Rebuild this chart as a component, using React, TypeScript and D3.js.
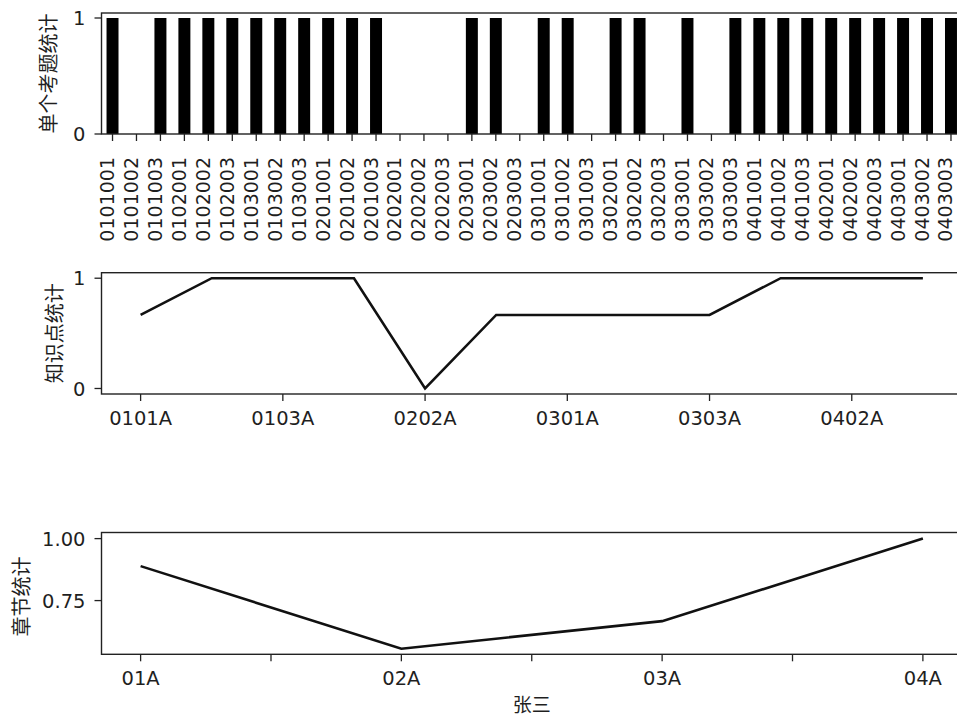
import React from 'react';
import * as d3 from 'd3';

const questionIds = [
  '0101001', '0101002', '0101003', '0102001', '0102002', '0102003',
  '0103001', '0103002', '0103003', '0201001', '0201002', '0201003',
  '0202001', '0202002', '0202003', '0203001', '0203002', '0203003',
  '0301001', '0301002', '0301003', '0302001', '0302002', '0302003',
  '0303001', '0303002', '0303003', '0401001', '0401002', '0401003',
  '0402001', '0402002', '0402003', '0403001', '0403002', '0403003',
];
const questionScores = [
  1, 0, 1, 1, 1, 1,
  1, 1, 1, 1, 1, 1,
  0, 0, 0, 1, 1, 0,
  1, 1, 0, 1, 1, 0,
  1, 0, 1, 1, 1, 1,
  1, 1, 1, 1, 1, 1,
];
const pointIds = ['0101A', '0102A', '0103A', '0201A', '0202A', '0203A', '0301A', '0302A', '0303A', '0401A', '0402A', '0403A'];
const pointScores = [0.667, 1, 1, 1, 0, 0.667, 0.667, 0.667, 0.667, 1, 1, 1];
const chapterIds = ['01A', '02A', '03A', '04A'];
const chapterScores = [0.889, 0.556, 0.667, 1.0];

const topYTicks = [0, 1];
const midYTicks = [0, 1];
const botYTicks = [0.75, 1.0];
const botXTicks = [0, 0.5, 1, 1.5, 2, 2.5, 3];

const W = 957;
const H = 718;
const LATIN = "'DejaVu Sans', sans-serif";
const CJK = "'Noto Sans CJK SC', 'DejaVu Sans', sans-serif";
const TXT = '#1f1f1f';
const SPINE = '#222';
const LEFT = 101.5;
const RIGHT = 962;

function Frame({ top, bottom }: { top: number; bottom: number }) {
  return (
    <rect x={LEFT} y={top} width={RIGHT - LEFT} height={bottom - top} fill="none" stroke={SPINE} strokeWidth={1.4} />
  );
}

function YTicks({ ticks, y, fmt, fs }: { ticks: number[]; y: (v: number) => number; fmt: (v: number) => string; fs: number }) {
  return (
    <g>
      {ticks.map((t) => (
        <g key={t}>
          <line x1={LEFT - 7} x2={LEFT} y1={y(t)} y2={y(t)} stroke={SPINE} strokeWidth={1.3} />
          <text x={LEFT - 16} y={y(t) + fs * 0.36} textAnchor="end" fontFamily={LATIN} fontSize={fs} fill={TXT}>
            {fmt(t)}
          </text>
        </g>
      ))}
    </g>
  );
}

function YLabel({ text, x, y }: { text: string; x: number; y: number }) {
  return (
    <text
      transform={`translate(${x},${y}) rotate(-90)`}
      textAnchor="middle"
      dominantBaseline="central"
      fontFamily={CJK}
      fontSize={20}
      fill={TXT}
    >
      {text}
    </text>
  );
}

export default function App() {
  // Top panel: bar chart of individual questions
  const tTop = 13;
  const tBot = 134;
  const xTop = d3.scaleLinear().domain([-0.46, 35.46]).range([LEFT, RIGHT]);
  const yTop = d3.scaleLinear().domain([0, 1.05]).range([tBot, tTop - 0.8]);
  const barW = (xTop(1) - xTop(0)) * 0.5;

  // Middle panel: knowledge points
  const mTop = 272.7;
  const mBot = 394;
  const xMid = d3.scaleLinear().domain([-0.55, pointIds.length - 1 + 0.55]).range([LEFT, RIGHT]);
  const yMid = d3.scaleLinear().domain([-0.05, 1.05]).range([mBot, mTop]);
  const midLine = d3
    .line<number>()
    .x((_, i) => xMid(i))
    .y((d) => yMid(d));

  // Bottom panel: chapters
  const bTop = 532.5;
  const bBot = 654.3;
  const xBot = d3.scaleLinear().domain([-0.15, chapterIds.length - 1 + 0.15]).range([LEFT, RIGHT]);
  const yBot = d3.scaleLinear().domain([0.5333, 1.0222]).range([bBot, bTop + 0.6]);
  const botLine = d3
    .line<number>()
    .x((_, i) => xBot(i))
    .y((d) => yBot(d));

  const fs = 19.5;

  return (
    <svg
      width={W}
      height={H}
      viewBox={`0 0 ${W} ${H}`}
      style={{ position: 'absolute', left: 0, top: 0, background: '#fff' }}
    >
      <rect x={0} y={0} width={W} height={H} fill="#fff" />

      {/* ---------- Top panel ---------- */}
      <g>
        {questionScores.map((v, i) => (
          <rect
            key={questionIds[i]}
            x={xTop(i) - barW / 2}
            y={yTop(v)}
            width={barW}
            height={yTop(0) - yTop(v)}
            fill="#000"
          />
        ))}
        <Frame top={tTop} bottom={tBot} />
        <YTicks ticks={topYTicks} y={yTop} fmt={(v) => String(v)} fs={fs} />
        {questionIds.map((id, i) => (
          <g key={id}>
            <line x1={xTop(i)} x2={xTop(i)} y1={tBot} y2={tBot + 7} stroke={SPINE} strokeWidth={1.3} />
            <text
              transform={`translate(${xTop(i) + 1.5},${tBot + 23}) rotate(-90)`}
              textAnchor="end"
              fontFamily={LATIN}
              fontSize={19}
              fill={TXT}
            >
              {id}
            </text>
          </g>
        ))}
        <YLabel text="单个考题统计" x={47} y={(tTop + tBot) / 2} />
      </g>

      {/* ---------- Middle panel ---------- */}
      <g>
        <path d={midLine(pointScores) || ''} fill="none" stroke="#111" strokeWidth={2.6} strokeLinejoin="miter" />
        <Frame top={mTop} bottom={mBot} />
        <YTicks ticks={midYTicks} y={yMid} fmt={(v) => String(v)} fs={fs} />
        {pointIds.map((id, i) =>
          i % 2 === 0 ? (
            <g key={id}>
              <line x1={xMid(i)} x2={xMid(i)} y1={mBot} y2={mBot + 7} stroke={SPINE} strokeWidth={1.3} />
              <text x={xMid(i)} y={mBot + 31} textAnchor="middle" fontFamily={LATIN} fontSize={fs} fill={TXT}>
                {id}
              </text>
            </g>
          ) : null
        )}
        <YLabel text="知识点统计" x={53} y={(mTop + mBot) / 2} />
      </g>

      {/* ---------- Bottom panel ---------- */}
      <g>
        <path d={botLine(chapterScores) || ''} fill="none" stroke="#111" strokeWidth={2.6} />
        <Frame top={bTop} bottom={bBot} />
        <YTicks ticks={botYTicks} y={yBot} fmt={d3.format('.2f')} fs={fs} />
        {botXTicks.map((t) => (
          <g key={t}>
            <line x1={xBot(t)} x2={xBot(t)} y1={bBot} y2={bBot + 7} stroke={SPINE} strokeWidth={1.3} />
            {Number.isInteger(t) ? (
              <text x={xBot(t)} y={bBot + 31} textAnchor="middle" fontFamily={LATIN} fontSize={fs} fill={TXT}>
                {chapterIds[t]}
              </text>
            ) : null}
          </g>
        ))}
        <YLabel text="章节统计" x={20} y={(bTop + bBot) / 2 + 3} />
        <text x={(LEFT + RIGHT) / 2} y={712} textAnchor="middle" fontFamily={CJK} fontSize={19} fill={TXT}>
          张三
        </text>
      </g>
    </svg>
  );
}
